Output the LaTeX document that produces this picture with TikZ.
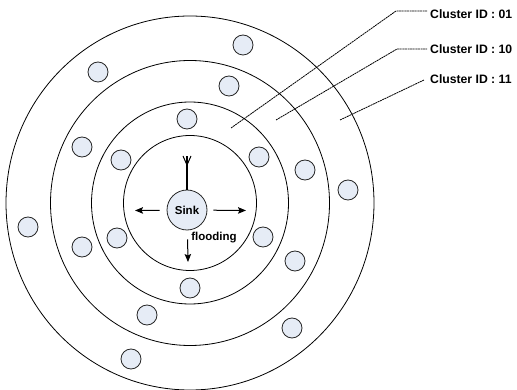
\documentclass[tikz,border=0pt]{standalone}
\usepackage{fontspec}
\setmainfont{Liberation Sans}
\usetikzlibrary{arrows.meta}

\definecolor{node_fill}{RGB}{230,236,246}

\begin{document}
\begin{tikzpicture}[
    x=1pt, y=-1pt,
% Block styles
    ring/.style={draw=black, line width=0.8pt},
    sensor/.style={circle, draw=black!85, fill=node_fill, line width=0.8pt, minimum size=20pt, inner sep=0pt},
    sinknode/.style={circle, draw=black!85, fill=node_fill, line width=0.8pt, minimum size=40pt, inner sep=0pt, font=\fontsize{11.5}{13}\selectfont\bfseries},
    flood/.style={-{Stealth[length=8pt, width=6.5pt, inset=1.5pt]}, line width=1pt},
    leader/.style={line width=0.8pt, dash pattern=on 2pt off 0.6pt},
    idlabel/.style={anchor=base west, inner sep=0pt, font=\fontsize{12.2}{14}\selectfont\bfseries}
]
\useasboundingbox (0,0) rectangle (517,390);

% 1. Cluster rings around the sink
\coordinate (centre) at (190,203);
\draw[ring] (centre) ellipse [x radius=66.5, y radius=67.5];
\draw[ring] (centre) ellipse [x radius=98.5, y radius=101];
\draw[ring] (centre) ellipse [x radius=139.5, y radius=142.5];
\draw[ring] (centre) ellipse [x radius=184, y radius=187];

% 2. Sensor nodes
\foreach \px/\py [count=\i] in {243/45, 98/72, 229/86, 187/119, 82/147, 121/160,
        259/157, 305/170, 348/190, 28/227, 117/238, 82/247, 263/237, 295/261,
        190/288, 147/315, 292/328, 131/359}
    \node[sensor] (sens\i) at (\px,\py) {};

% 3. Sink with antenna and flooding
\node[sinknode] (sink) at (187,210) {Sink};
\coordinate (ant) at (187,156);
\draw[line width=1.3pt] (sink.north) -- (ant);
\draw[line width=1pt] (ant) ++(-4,0) -- ++(4,9) -- ++(4,-9);

\coordinate (floodW) at (135,210.5);
\coordinate (floodE) at (246,210.5);
\coordinate (floodS) at (188,262);
\draw[flood, shorten <=7pt] (sink) -- (floodW);
\draw[flood, shorten <=6pt] (sink) -- (floodE);
\draw[flood, shorten <=9pt] (sink) -- (floodS);
\node[font=\fontsize{11.5}{13}\selectfont\bfseries] (floodtxt) at (214,238) {flooding};

% 4. Cluster ID labels
\node[idlabel] (id01) at (430,18.5) {Cluster ID : 01};
\node[idlabel] (id10) at (430,53.3) {Cluster ID : 10};
\node[idlabel] (id11) at (430,83.3) {Cluster ID : 11};

\coordinate (in01) at (231,128);
\coordinate (kn01) at (396,11);
\coordinate (in10) at (276,120);
\coordinate (kn10) at (397,49);
\coordinate (in11) at (340,120);
\coordinate (kn11) at (424,80);

\draw[leader] (in01) -- (kn01) -- ([xshift=-3pt]kn01 -| id01.west);
\draw[leader] (in10) -- (kn10) -- ([xshift=-3pt]kn10 -| id10.west);
\draw[leader] (in11) -- (kn11);

\end{tikzpicture}
\end{document}
